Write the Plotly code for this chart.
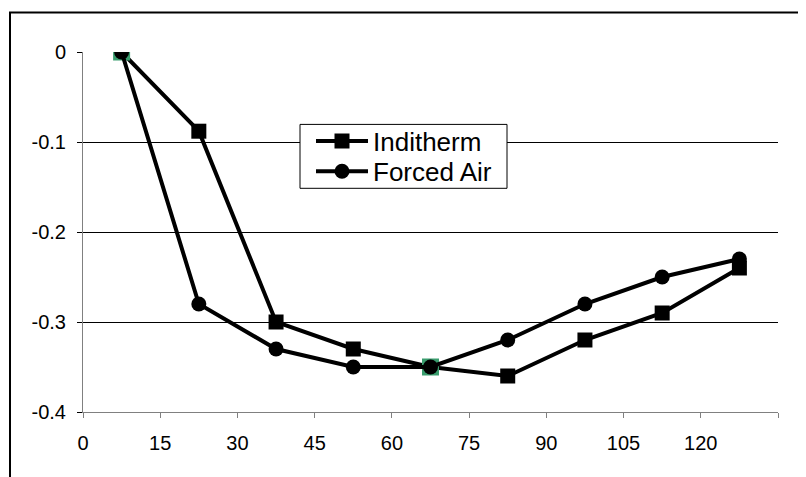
import plotly.graph_objects as go

# Data
minutes = [7.5, 22.5, 37.5, 52.5, 67.5, 82.5, 97.5, 112.5, 127.5]
inditherm = [0, -0.088, -0.30, -0.33, -0.35, -0.36, -0.32, -0.29, -0.24]
forced_air = [0, -0.28, -0.33, -0.35, -0.35, -0.32, -0.28, -0.25, -0.23]
x_ticks = [0, 15, 30, 45, 60, 75, 90, 105, 120, 135]
x_tick_labels = ["0", "15", "30", "45", "60", "75", "90", "105", "120", ""]
y_ticks = [0, -0.1, -0.2, -0.3, -0.4]
y_tick_labels = ["0", "-0.1", "-0.2", "-0.3", "-0.4"]

FONT = "Arial, Liberation Sans, sans-serif"
GREEN = "#3a9d6e"

# Page geometry (the page body adds an 8px offset)
BODY = 8
PL, PR, PT, PB = 83, 778, 51.5, 412          # plot area in page pixels
W, H = 806, 477


def px_x(p):
    return (p - PL) / (PR - PL)


def px_y(p):
    return (PB - p) / (PB - PT)


# points where the two series coincide: the square shows green behind the circle
ov_x = [m for m, a, b in zip(minutes, inditherm, forced_air) if a == b]
ov_y = [a for a, b in zip(inditherm, forced_air) if a == b]

fig = go.Figure()
fig.add_trace(go.Scatter(
    x=minutes, y=inditherm, name="Inditherm", mode="lines+markers",
    line=dict(color="black", width=4),
    marker=dict(symbol="square", size=15, color="black", line=dict(width=0)),
    legend="legend",
))
fig.add_trace(go.Scatter(
    x=ov_x, y=ov_y, mode="markers", showlegend=False, hoverinfo="skip",
    marker=dict(symbol="square", size=17, color=GREEN, line=dict(width=0)),
))
fig.add_trace(go.Scatter(
    x=minutes, y=forced_air, name="Forced Air", mode="lines+markers",
    line=dict(color="black", width=4),
    marker=dict(symbol="circle", size=15, color="black", line=dict(width=0)),
    legend="legend2",
))

leg_common = dict(
    xanchor="left", yanchor="middle",
    bgcolor="rgba(0,0,0,0)", borderwidth=0,
    font=dict(family=FONT, size=26, color="black"),
    itemwidth=52,
)

fig.update_layout(
    width=W, height=H,
    margin=dict(l=PL - BODY, r=W - (PR - BODY), t=PT - BODY, b=H - (PB - BODY)),
    paper_bgcolor="white", plot_bgcolor="white",
    font=dict(family=FONT, color="black", size=20),
    showlegend=True,
    legend=dict(x=px_x(311), y=px_y(140.7), **leg_common),
    legend2=dict(x=px_x(311), y=px_y(171), **leg_common),
    xaxis=dict(
        range=[0, 135], tickvals=x_ticks, ticktext=x_tick_labels,
        showgrid=False, zeroline=False,
        showline=True, linecolor="#808080", linewidth=1,
        ticks="outside", ticklen=5, tickcolor="#808080", tickwidth=1,
        tickfont=dict(size=20, family=FONT, color="black"),
        ticklabelstandoff=8,
    ),
    yaxis=dict(
        range=[-0.4, 0], tickvals=y_ticks, ticktext=y_tick_labels,
        showgrid=True, gridcolor="black", gridwidth=1,
        zeroline=False,
        showline=True, linecolor="#808080", linewidth=1,
        ticks="outside", ticklen=5, tickcolor="black", tickwidth=1,
        tickfont=dict(size=20, family=FONT, color="black"),
        ticklabelstandoff=7,
    ),
    shapes=[
        # outer chart frame (runs off the right and bottom of the picture)
        dict(type="rect", xref="paper", yref="paper",
             x0=px_x(10), x1=px_x(840), y0=px_y(520), y1=px_y(12),
             line=dict(color="black", width=2), fillcolor="rgba(0,0,0,0)",
             layer="below"),
        # legend box
        dict(type="rect", xref="paper", yref="paper",
             x0=px_x(300), x1=px_x(507), y0=px_y(188), y1=px_y(124),
             line=dict(color="black", width=1), fillcolor="white",
             layer="above"),
    ],
)

fig.write_html("out.html")
